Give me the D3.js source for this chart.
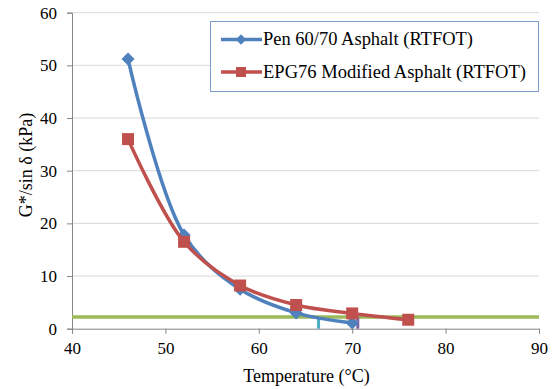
<!DOCTYPE html>
<html>
<head>
<meta charset="utf-8">
<script src="https://cdn.jsdelivr.net/npm/d3@7"></script>
<style>
  body { margin: 0; background: #fff; }
</style>
</head>
<body>
<div id="chart"></div>
<script>
const penTemps = [46, 52, 58, 64, 70];
const penValues = [51.2, 17.8, 7.5, 3.0, 1.1];
const epgTemps = [46, 52, 58, 64, 70, 76];
const epgValues = [36.0, 16.5, 8.2, 4.5, 2.9, 1.7];
const criterion = 2.2;
const failTemps = [66.4, 70.6];
const xTicks = [40, 50, 60, 70, 80, 90];
const yTicks = [0, 10, 20, 30, 40, 50, 60];
const seriesNames = ["Pen 60/70 Asphalt (RTFOT)", "EPG76 Modified Asphalt (RTFOT)"];

const width = 557;
const height = 389;
const plotLeft = 72, plotRight = 539, plotTop = 12.7, plotBottom = 328.7;
const serif = "'Times New Roman', 'Liberation Serif', Times, serif";

const svg = d3.select("#chart")
    .append("svg")
    .attr("width", width)
    .attr("height", height)
    .style("font-family", serif);

const xScale = d3.scaleLinear().domain([40, 90]).range([plotLeft, plotRight]);
const yScale = d3.scaleLinear().domain([0, 60]).range([plotBottom, plotTop]);

// gridlines
svg.append("g")
    .selectAll("line")
    .data(yTicks.slice(1))
    .enter()
    .append("line")
    .attr("x1", plotLeft)
    .attr("x2", plotRight)
    .attr("y1", d => yScale(d))
    .attr("y2", d => yScale(d))
    .attr("stroke", "#d9d9d9")
    .attr("stroke-width", 1);

const xAxis = d3.axisBottom(xScale).tickValues(xTicks).tickSize(5).tickPadding(8);
const yAxis = d3.axisLeft(yScale).tickValues(yTicks).tickSize(5).tickPadding(10);

const gx = svg.append("g")
    .attr("transform", "translate(0," + plotBottom + ")")
    .call(xAxis);
const gy = svg.append("g")
    .attr("transform", "translate(" + plotLeft + ",0)")
    .call(yAxis);

[gx, gy].forEach(g => {
    g.attr("font-family", null).attr("font-size", null);
    g.select(".domain").attr("stroke", "#868686");
    g.selectAll(".tick line").attr("stroke", "#868686");
    g.selectAll(".tick text")
        .style("font-family", serif)
        .style("font-size", "17px")
        .attr("fill", "#000");
});

// criterion line
svg.append("line")
    .attr("x1", xScale(40))
    .attr("x2", xScale(90))
    .attr("y1", yScale(criterion))
    .attr("y2", yScale(criterion))
    .attr("stroke", "#9bbb59")
    .attr("stroke-width", 3.5);

// failure temperature drop lines
const dropColors = ["#4bacc6", "#8064a2"];
svg.selectAll(".drop")
    .data(failTemps)
    .enter()
    .append("line")
    .attr("class", "drop")
    .attr("x1", d => xScale(d))
    .attr("x2", d => xScale(d))
    .attr("y1", yScale(criterion))
    .attr("y2", yScale(0))
    .attr("stroke", (d, i) => dropColors[i])
    .attr("stroke-width", 3);

const line = d3.line()
    .x(d => xScale(d[0]))
    .y(d => yScale(d[1]))
    .curve(d3.curveCatmullRom.alpha(0.5));

const penData = penTemps.map((t, i) => [t, penValues[i]]);
const epgData = epgTemps.map((t, i) => [t, epgValues[i]]);

svg.append("path")
    .datum(penData)
    .attr("fill", "none")
    .attr("stroke", "#4f81bd")
    .attr("stroke-width", 3.5)
    .attr("d", line);

svg.selectAll(".pen")
    .data(penData)
    .enter()
    .append("path")
    .attr("class", "pen")
    .attr("transform", d => "translate(" + xScale(d[0]) + "," + yScale(d[1]) + ")")
    .attr("d", d3.symbol().type(d3.symbolDiamond2).size(110))
    .attr("fill", "#4f81bd");

svg.append("path")
    .datum(epgData)
    .attr("fill", "none")
    .attr("stroke", "#c0504d")
    .attr("stroke-width", 3.5)
    .attr("d", line);

svg.selectAll(".epg")
    .data(epgData)
    .enter()
    .append("rect")
    .attr("class", "epg")
    .attr("x", d => xScale(d[0]) - 6)
    .attr("y", d => yScale(d[1]) - 6)
    .attr("width", 12)
    .attr("height", 12)
    .attr("fill", "#c0504d");

// legend
const legend = svg.append("g");
legend.append("rect")
    .attr("x", 210.5)
    .attr("y", 21.5)
    .attr("width", 328)
    .attr("height", 70)
    .attr("fill", "#fff")
    .attr("stroke", "#7f9fcf")
    .attr("stroke-width", 1);

const legendColors = ["#4f81bd", "#c0504d"];
const legendWidths = [210, 263];
seriesNames.forEach((name, i) => {
    const y = 39.5 + i * 32.5;
    legend.append("line")
        .attr("x1", 221)
        .attr("x2", 262)
        .attr("y1", y)
        .attr("y2", y)
        .attr("stroke", legendColors[i])
        .attr("stroke-width", 3.5);
    if (i === 0) {
        legend.append("path")
            .attr("transform", "translate(241," + y + ")")
            .attr("d", d3.symbol().type(d3.symbolDiamond2).size(70))
            .attr("fill", legendColors[i]);
    } else {
        legend.append("rect")
            .attr("x", 236).attr("y", y - 5)
            .attr("width", 10).attr("height", 10)
            .attr("fill", legendColors[i]);
    }
    legend.append("text")
        .attr("x", 263)
        .attr("y", y + 5.5)
        .style("font-family", serif)
        .style("font-size", "18.5px")
        .attr("textLength", legendWidths[i])
        .attr("lengthAdjust", "spacingAndGlyphs")
        .text(name);
});

// axis titles
svg.append("text")
    .attr("x", 306.5)
    .attr("y", 382)
    .attr("text-anchor", "middle")
    .style("font-family", serif)
    .style("font-size", "18px")
    .text("Temperature (°C)");

svg.append("text")
    .attr("transform", "translate(32,165) rotate(-90)")
    .attr("text-anchor", "middle")
    .style("font-family", serif)
    .style("font-size", "18px")
    .text("G*/sin δ (kPa)");
</script>
</body>
</html>
